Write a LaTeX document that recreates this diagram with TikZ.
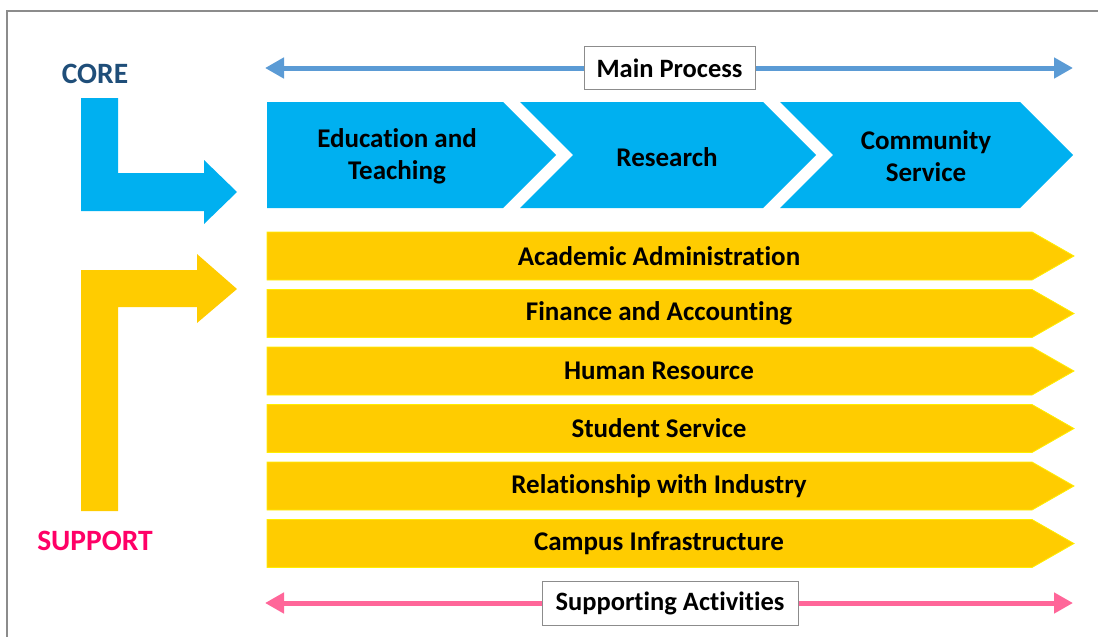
\documentclass[tikz,border=0pt]{standalone}
\usepackage{fontspec}
\setmainfont[Ligatures=CommonOff]{Carlito}
\usetikzlibrary{arrows.meta}
\definecolor{cblue}{HTML}{00B0F0}
\definecolor{cyel}{HTML}{FFCC00}
\definecolor{cyelb}{HTML}{FFEE00}
\definecolor{mblue}{HTML}{5B9BD5}
\definecolor{mpink}{HTML}{FF6699}
\definecolor{coretxt}{HTML}{1F4E79}
\definecolor{suptxt}{HTML}{FF0066}
\definecolor{frame}{HTML}{8C8C8C}
\tikzset{
  chev/.style={fill=cblue, draw=none},
  ybar/.style={fill=cyel, draw=cyelb, line width=0.8pt},
  lbl/.style={font=\bfseries\fontsize{27}{32}\selectfont, align=center, text=black, inner sep=0pt},
  boxlbl/.style={draw=frame, fill=white, line width=1pt, font=\bfseries\fontsize{26.5}{30}\selectfont, minimum height=43pt, inner xsep=6pt},
  darr/.style={line width=5pt, {Triangle[length=19pt,width=20pt]}-{Triangle[length=19pt,width=20pt]}},
  sidelbl/.style={font=\bfseries\fontsize{29.5}{34}\selectfont, inner sep=0pt},
}
\begin{document}
\begin{tikzpicture}[x=1pt,y=-1pt]
\useasboundingbox (0,0) rectangle (1098,637);
% frame
\draw[frame, line width=2pt] (7,640) -- (7,11) -- (1100,11);
% title labels
\node[sidelbl, text=coretxt] (core) at (95,74) {CORE};
\node[sidelbl, text=suptxt] (support) at (95,541) {SUPPORT};
% L arrows
\fill[cblue] (81,98) -- (118,98) -- (118,173) -- (204,173) -- (204,160) -- (237,192) -- (204,224) -- (204,211) -- (81,211) -- cycle;
\fill[cyel] (81,511) -- (81,270) -- (197,270) -- (197,254) -- (237,289) -- (197,323) -- (197,307) -- (118,307) -- (118,511) -- cycle;
% main process arrow
\coordinate (mpL) at (265,68);
\coordinate (mpR) at (1073,68);
\draw[darr, mblue] (mpL) -- (mpR);
\node[boxlbl, minimum width=171pt] (mp) at (669.5,68) {Main Process};
% chevrons
\path[chev] (267,102) -- (503,102) -- (556,155) -- (503,208) -- (267,208) -- cycle;
\path[chev] (520,102) -- (763,102) -- (816,155) -- (763,208) -- (520,208) -- (573,155) -- cycle;
\path[chev] (780,102) -- (1020,102) -- (1073,155) -- (1020,208) -- (780,208) -- (833,155) -- cycle;
\node[lbl] (edu) at (397,156.5) {Education and\\Teaching};
\node[lbl] (res) at (667,157) {Research};
\node[lbl] (com) at (926,156) {Community\\Service};
% support bars
\foreach \t/\txt/\nm in {232/Academic Administration/s1, 289.5/Finance and Accounting/s2, 347/Human Resource/s3, 404.5/Student Service/s4, 462/Relationship with Industry/s5, 519.5/Campus Infrastructure/s6}{
  \path[ybar] (267,\t) -- (1032,\t) -- (1074,\t+24) -- (1032,\t+48) -- (267,\t+48) -- cycle;
  \node[lbl] (\nm) at (659,\t+24) {\txt};
}
% supporting activities arrow
\coordinate (saL) at (265,603);
\coordinate (saR) at (1073,603);
\draw[darr, mpink] (saL) -- (saR);
\node[boxlbl, minimum width=256pt, minimum height=44pt] (sa) at (670,603) {Supporting Activities};
\end{tikzpicture}
\end{document}
